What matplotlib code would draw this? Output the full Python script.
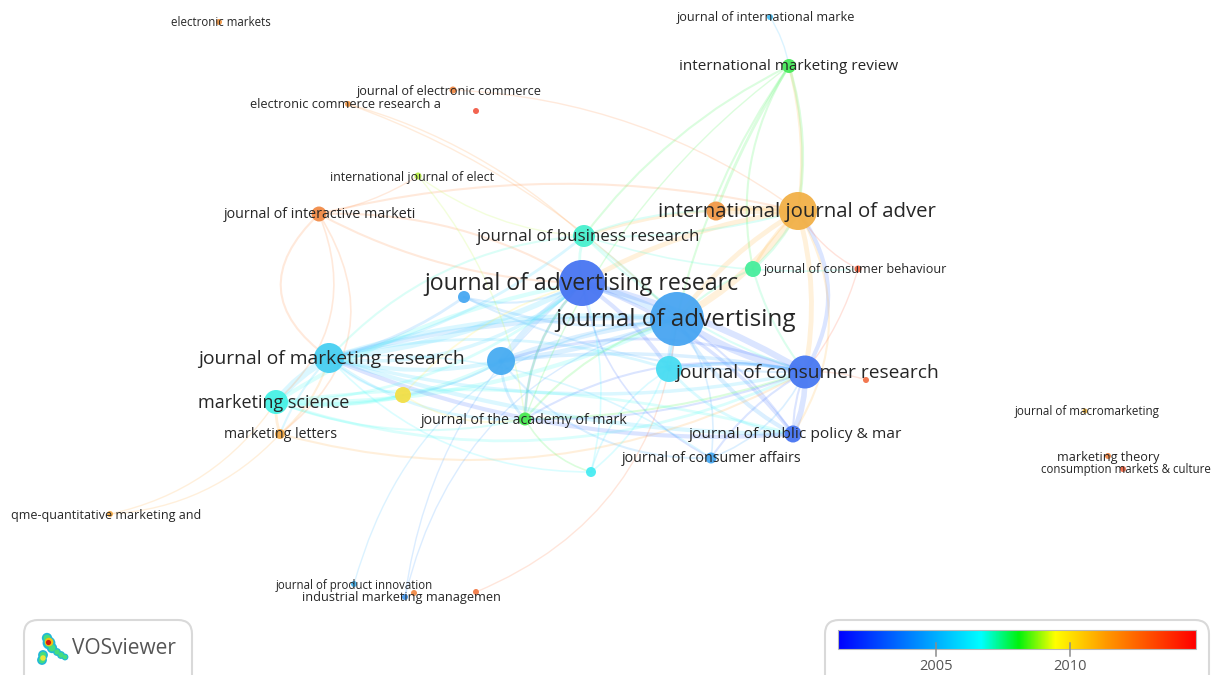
import numpy as np
import matplotlib
matplotlib.use("Agg")
import matplotlib.pyplot as plt
from matplotlib.colors import LinearSegmentedColormap, to_rgb
from matplotlib.patches import Circle, FancyBboxPatch, PathPatch
from matplotlib.path import Path

plt.rcParams['font.family'] = ['Open Sans', 'DejaVu Sans']

# ---- data ----
keys = ['em','jim','imr','jec','ecr','red1','ijel','jin','ija','ora1','jbr','jcb','grn1','jar','blu1',
        'ja','jmr','blu2','cyn1','jcr','red2','yel1','ms','jam','ml','jpp','jca','cyn2','jmm','mt','cmc',
        'qme','jpi','imm','org2','org3']
node_x = [219,770,789,453,348,476,418,319,798,716,584,858,753,582,464,677,329,501,669,805,866,403,276,525,280,793,711,591,1085,1108,1123,110,354,405,414,476]
node_y = [22,17,66,90,104,111,176,214,211,211,236,269,269,283,297,319,358,361,369,372,380,395,402,419,434,434,458,472,411,456,469,514,584,597,593,592]
node_r = [3,3,7,3.5,3,3,3.5,7.5,19,9.5,11,3.5,8,23,6,27,15,14,13,16.5,3,8,12,6.5,5,8.5,5.5,5,2.5,3,3,3,3,3,3,3]
node_year = [2012,2005,2008,2012.5,2012,2014,2009,2012.5,2011.3,2012,2007,2013.6,2007.4,2002.8,2004.4,
             2004.3,2005.6,2004.5,2006,2002.9,2013.3,2010,2006.8,2008.1,2011.5,2002.8,2004.4,2006.5,2011,2012.6,2013.6,2011.5,2004.8,2004,2012.5,2013]
labels = {'em':('electronic markets',221,8.3),'jim':('journal of international marke',766,9.05),
          'imr':('international marketing review',789,11),'jec':('journal of electronic commerce',449,9.1),
          'ecr':('electronic commerce research a',345,9.15),'ijel':('international journal of elect',412.5,8.95),
          'jin':('journal of interactive marketi',319.5,10.25),'ija':('international journal of adver',796.5,14.7),
          'jbr':('journal of business research',588.5,12.15),'jcb':('journal of consumer behaviour',855.5,9.05),
          'jar':('journal of advertising researc',581,16.7),'ja':('journal of advertising',676,17.5),
          'jmr':('journal of marketing research',331,13.85),'jcr':('journal of consumer research',806.5,13.75),
          'ms':('marketing science',273.5,13),'jam':('journal of the academy of mark',524,10.2),
          'ml':('marketing letters',280.5,10.15),'jpp':('journal of public policy & mar',795.5,11.15),
          'jca':('journal of consumer affairs',711.5,10.3),'jmm':('journal of macromarketing',1087,8.4),
          'mt':('marketing theory',1108.5,9.05),'cmc':('consumption markets & culture',1125.5,8.3),
          'qme':('qme-quantitative marketing and',106.5,9),'jpi':('journal of product innovation',354.5,8.3),
          'imm':('industrial marketing managemen',401,9.15)}
edge_from = ['ja','jcr','ja','blu2','ija','ja','ja','jcr','jmr','blu2','ms','jar','jar','ija','jin','jar','ija','ija','jcr','ija','ija','ija','ija','ija',
             'jmr','jmr','jmr','jmr','jmr','jmr','jmr','jmr','ms','ms','ms','ms','ms','jcr','jcr','jcr','jcr','jcr',
             'blu2','blu2','blu2','blu2','blu1','blu1','cyn1','cyn1','cyn1','jbr','jbr','jbr','jbr','jbr',
             'imr','imr','imr','imr','imr','jim','jin','jin','jin','jin','jin','jin','ecr','ecr','jec','ijel','ijel',
             'ml','ml','ml','qme','qme','yel1','yel1','jam','jam','jam','jam','jpp','jpp','jca','jca','cyn2','cyn2','imm','imm','jpi','org3','grn1','grn1','grn1','jcb','jcb','red2',
             'blu2','blu1','blu1','jpp','jam','ms','jar','jmr','cyn2','jbr','jmr','jmr','jmr','ms','jcr','jbr']
edge_to   = ['jar','ja','jmr','ja','ja','cyn1','jpp','jar','jar','jar','jar','cyn1','jpp','jar','jar','jam','jcr','ora1','ija','ja','grn1','imr','jbr','jpp',
             'ms','blu2','ja','jcr','jpp','yel1','jam','ml','blu2','jcr','yel1','jam','ja','cyn1','jpp','jca','blu2','jam',
             'ja','jam','yel1','jca','jmr','ja','jcr','jpp','cyn2','ja','jar','ija','jmr','ora1',
             'ora1','ija','jbr','ja','grn1','imr','jmr','ms','jar','ija','ml','ijel','ja','jbr','ija','jam','jbr',
             'jmr','jcr','ms','ms','ml','jam','jar','jar','ja','cyn2','imr','jcr','ja','jcr','ja','ja','jar','jar','ja','ja','ja','ja','jcr','ija','ija','jcr','jcr',
             'jcr','jar','jcr','jmr','jcr','jpp','jca','jca','jmr','jcb','jbr','cyn1','jar','jar','jam','jcr']
edge_w = [5,5,3.5,4,5,4,3,4.5,4,4,3,3,2.5,3.5,1.5,2,3.5,6,3,3.5,2,2,2,1.5,
          5,3,3.5,2.5,3,1.5,2,1.5,3,2,1.5,1.5,3,2.5,4,1.5,2,1.5,
          3.5,2,1.5,1.5,2,2,2,2,1.2,2,2,1.5,1.5,1.5,
          2,2,1.5,1.5,1.5,1,1.5,1.2,1.5,1.5,1.2,1,1,1,1,1,1,
          1.5,1.5,2,1,1,1.2,1.2,1.5,1.5,1.2,1,1.5,1.5,1.2,1.2,1.2,1.2,1,1,1,1,1.5,1.5,2,1,1,1,
          2.5,1.5,1.5,3,1.5,2,1.2,1.2,1.2,1.2,2,2,2.5,2,1.5,1.5]
edge_bend = [0.05,-0.1,0.08,-0.06,-0.12,0.05,0.15,0.08,0.1,-0.1,-0.1,-0.1,-0.15,0.1,0.12,0.2,-0.12,0.03,0.33,0.1,0.1,0.1,0.1,-0.3,
             0.1,0.12,-0.1,0.12,0.08,0.15,0.18,0.1,0.15,0.2,0.1,0.15,0.12,0.1,-0.12,0.12,0.18,0.2,
             0.06,0.2,-0.1,0.25,-0.1,0.15,-0.1,0.2,0.2,-0.05,0.15,0.08,0.2,-0.1,
             0.05,-0.12,0.12,0.1,0.2,-0.1,0.6,-0.35,-0.15,-0.12,-0.45,0.1,-0.12,-0.12,-0.15,-0.15,0.15,
             0.15,0.2,-0.1,0.2,0.2,0.2,-0.15,-0.2,-0.15,0.2,-0.15,-0.1,0.1,0.2,0.2,0.2,0.15,-0.2,-0.3,-0.35,0.3,0.1,0.1,0.1,-0.15,-0.1,0.1,
             -0.08,0.2,0.12,-0.12,0.08,-0.1,0.25,-0.18,-0.22,0.1,0.12,-0.14,0.22,0.18,-0.1,0.12]
logo_x = [49,47,52,43,42,57,61,65]
logo_y = [643,638,648,655,660,652,655,657]
logo_s = [85,55,55,50,50,32,32,24]
bar_ticks = [2005,2010]

# ---- styling helpers ----
year_lo, year_hi = 2001.34, 2014.7
cmap = LinearSegmentedColormap.from_list('vos', [(0,(0,0,1)),(0.2,(0,0.5,1)),(0.4,(0,1,1)),(0.505,(0,0.95,0.05)),
                                                 (0.607,(1,1,0)),(0.75,(1,0.6,0)),(1,(1,0,0))])
def ycol(y, lighten=0.0, dim=1.0):
    c = np.array(to_rgb(cmap((y-year_lo)/(year_hi-year_lo))))*dim
    return tuple(c*(1-lighten)+lighten)

fig = plt.figure(figsize=(12.17,6.75), dpi=100)
ax = fig.add_axes([0,0,1,1])
ax.set_xlim(0,1217); ax.set_ylim(675,0); ax.axis('off')
idx = {k:i for i,k in enumerate(keys)}

# edges
for a,b,w,bend in zip(edge_from,edge_to,edge_w,edge_bend):
    i,j = idx[a],idx[b]
    p0 = np.array([node_x[i],node_y[i]],float); p1 = np.array([node_x[j],node_y[j]],float)
    d = p1-p0; n = np.array([-d[1],d[0]])
    c = (p0+p1)/2 + n*bend
    ax.add_patch(PathPatch(Path([p0,c,p1],[Path.MOVETO,Path.CURVE3,Path.CURVE3]),fill=False,
                           ec=ycol(node_year[i],0.3),lw=w,alpha=0.2,capstyle='round',zorder=1))

# nodes
for k,x,y,r,yr in zip(keys,node_x,node_y,node_r,node_year):
    ax.add_patch(Circle((x,y),r,fc=ycol(yr,0.28,0.93),ec='none',alpha=0.95,zorder=2))

# labels
for k,(txt,cx,fs) in labels.items():
    ax.text(cx,node_y[idx[k]]+1,txt,ha='center',va='center',fontsize=fs,color='#262626',zorder=3)

# logo panel
ax.add_patch(FancyBboxPatch((24,620),168,70,boxstyle='round,pad=0,rounding_size=14',fc='white',ec='#d9d9d9',lw=1.5,zorder=4,clip_on=True))
ax.scatter(logo_x,logo_y,s=np.array(logo_s),c='#21b8d8',linewidths=0,zorder=5)
ax.scatter(logo_x,logo_y,s=np.array(logo_s)*0.45,c='#46dd7e',linewidths=0,zorder=5)
ax.scatter([49,43],[642,658],s=[38,16],c=['#f2c014','#e6e83a'],linewidths=0,zorder=6)
ax.scatter([48],[642],s=14,c='#d51a0f',linewidths=0,zorder=7)
ax.text(72,648.5,'VOSviewer',ha='left',va='center',fontsize=15,color='#555555',zorder=5)

# colour bar panel
ax.add_patch(FancyBboxPatch((825,620),384,70,boxstyle='round,pad=0,rounding_size=14',fc='white',ec='#d9d9d9',lw=1.5,zorder=4))
ax.imshow(np.linspace(0,1,512)[None,:],extent=(838,1196,649,630),cmap=cmap,aspect='auto',zorder=5)
ax.set_xlim(0,1217); ax.set_ylim(675,0)
ax.add_patch(plt.Rectangle((838,630),358,19,fill=False,ec='#b8b8b8',lw=0.8,zorder=6))
for t in bar_ticks:
    x = 838+(t-year_lo)/(year_hi-year_lo)*358
    ax.plot([x,x],[643,656],color='#8c8c8c',lw=1.1,zorder=7)
    ax.text(x,666.5,str(t),ha='center',va='center',fontsize=10.5,color='#555555',zorder=7)

fig.savefig('out.png',dpi=100)
